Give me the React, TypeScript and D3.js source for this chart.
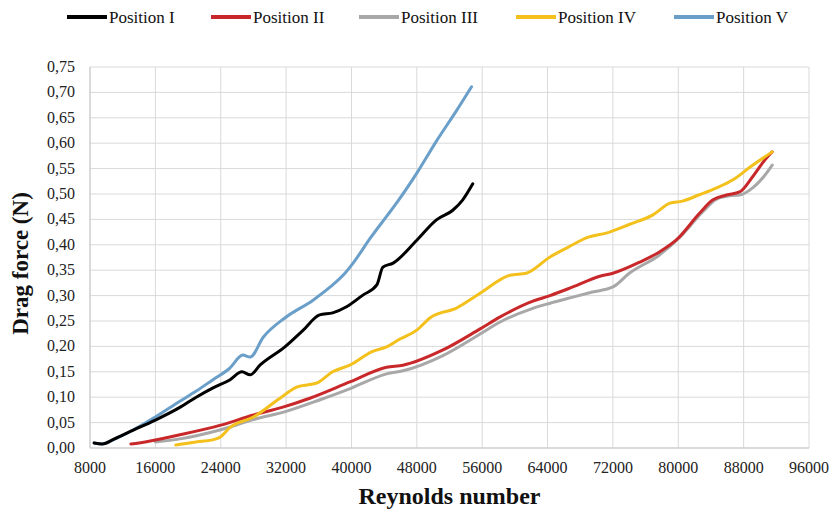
import React from "react";
import * as d3 from "d3";

// Reynolds number / drag force readings per position
const xTicks = [8000, 16000, 24000, 32000, 40000, 48000, 56000, 64000, 72000, 80000, 88000, 96000];
const yTicks = [0, 0.05, 0.1, 0.15, 0.2, 0.25, 0.3, 0.35, 0.4, 0.45, 0.5, 0.55, 0.6, 0.65, 0.7, 0.75];

const pos1: [number, number][] = [
  [8500, 0.01], [9500, 0.008], [11000, 0.018], [13000, 0.033], [16000, 0.055], [19000, 0.08],
  [21000, 0.1], [23000, 0.118], [25100, 0.134], [26600, 0.15], [27600, 0.144], [28800, 0.163],
  [31850, 0.199], [34100, 0.232], [36100, 0.262], [37700, 0.266], [39400, 0.278], [41400, 0.301],
  [43100, 0.321], [43850, 0.356], [45100, 0.364], [48000, 0.409], [50400, 0.449], [52400, 0.468],
  [53600, 0.488], [54850, 0.52],
];
const pos2: [number, number][] = [
  [13000, 0.008], [14000, 0.01], [19000, 0.026], [24000, 0.045], [28000, 0.065], [31500, 0.08],
  [34900, 0.098], [39800, 0.13], [44300, 0.159], [46300, 0.163], [51200, 0.193], [55700, 0.234],
  [58200, 0.258], [62200, 0.289], [64300, 0.3], [67100, 0.317], [70400, 0.338],
  [72000, 0.344], [75300, 0.366], [77700, 0.386], [79800, 0.41], [82600, 0.462], [84200, 0.488],
  [85900, 0.498], [87500, 0.504], [89100, 0.534], [90500, 0.565], [91500, 0.583],
];
const pos3: [number, number][] = [
  [16000, 0.012], [19000, 0.018], [24000, 0.036], [28000, 0.056], [32000, 0.072], [36000, 0.094],
  [40000, 0.118], [44300, 0.146], [46300, 0.152], [51200, 0.182], [55700, 0.224],
  [58200, 0.248], [62200, 0.275], [64300, 0.285], [67100, 0.297], [69500, 0.307], [72000, 0.317],
  [74000, 0.344], [77700, 0.38], [80500, 0.42], [83000, 0.465], [84700, 0.49], [86500, 0.497],
  [87500, 0.498], [89100, 0.512], [90500, 0.535], [91500, 0.557],
];
const pos4: [number, number][] = [
  [18500, 0.006], [21000, 0.012], [23000, 0.016], [24000, 0.022], [25100, 0.04], [28000, 0.061],
  [31250, 0.098], [33300, 0.12], [35800, 0.128], [37700, 0.15], [39800, 0.163], [42600, 0.19],
  [44300, 0.199], [46000, 0.215], [48000, 0.232], [49600, 0.256], [52900, 0.276],
  [55700, 0.304], [59400, 0.34], [61400, 0.344], [64300, 0.376], [66500, 0.395], [69000, 0.415],
  [71200, 0.423], [74000, 0.44], [76900, 0.459], [79000, 0.482], [80500, 0.486], [82500, 0.498],
  [84700, 0.512], [86700, 0.528], [88800, 0.553], [91500, 0.583],
];
const pos5: [number, number][] = [
  [8500, 0.01], [9500, 0.008], [10800, 0.016], [12900, 0.032], [16000, 0.061], [19000, 0.092],
  [21000, 0.112], [23000, 0.134], [25100, 0.157], [26700, 0.183], [27600, 0.179], [29200, 0.218],
  [31850, 0.256], [35300, 0.291], [37400, 0.317], [39200, 0.344], [40200, 0.364], [42300, 0.413],
  [44300, 0.456], [45600, 0.484], [48000, 0.541], [50400, 0.604], [52900, 0.665], [54700, 0.711],
];

const names = ["Position I", "Position II", "Position III", "Position IV", "Position V"];
const colors = ["#000000", "#c8282a", "#a8a8a8", "#f3c01c", "#6a9fca"];
const series = [pos1, pos2, pos3, pos4, pos5];
// drawing order: gray under red
const drawOrder = [2, 1, 3, 4, 0];

const W = 836, H = 517;
const left = 90, right = 809, top = 67, bottom = 448;

export default function App() {
  const x = d3.scaleLinear().domain([8000, 96000]).range([left, right]);
  const y = d3.scaleLinear().domain([0, 0.75]).range([bottom, top]);
  const line = d3.line<[number, number]>()
    .x(d => x(d[0]))
    .y(d => y(d[1]))
    .curve(d3.curveMonotoneX);

  const fmt = (v: number) => v.toFixed(2).replace(".", ",");
  const legendX = [67, 211, 359, 516, 674];

  return (
    <svg width={W} height={H} style={{ position: "absolute", left: 0, top: 0, background: "#fff" }}
      fontFamily="'Liberation Serif', 'Times New Roman', serif">
      {/* grid */}
      {yTicks.map(t => (
        <line key={"gy" + t} x1={left} x2={right} y1={y(t)} y2={y(t)} stroke="#d9d9d9" strokeWidth={1} />
      ))}
      {xTicks.map(t => (
        <line key={"gx" + t} x1={x(t)} x2={x(t)} y1={top} y2={bottom} stroke="#d9d9d9" strokeWidth={1} />
      ))}
      <line x1={left} x2={left} y1={top} y2={bottom} stroke="#c8c8c8" />
      <line x1={left} x2={right} y1={bottom} y2={bottom} stroke="#c8c8c8" />

      {/* tick labels */}
      {yTicks.map(t => (
        <text key={"ty" + t} x={left - 15} y={y(t) + 5} textAnchor="end" fontSize={16} fill="#222">{fmt(t)}</text>
      ))}
      {xTicks.map(t => (
        <text key={"tx" + t} x={x(t)} y={bottom + 25} textAnchor="middle" fontSize={16} fill="#222">{t}</text>
      ))}

      {/* series */}
      {drawOrder.map(i => (
        <path key={names[i]} d={line(series[i]) || ""} fill="none" stroke={colors[i]}
          strokeWidth={3} strokeLinejoin="round" strokeLinecap="round" />
      ))}

      {/* axis titles */}
      <text x={(left + right) / 2} y={504} textAnchor="middle" fontSize={24} fontWeight="bold" fill="#111">Reynolds number</text>
      <text transform={`translate(28,${(top + bottom) / 2 + 6}) rotate(-90)`} textAnchor="middle" fontSize={23}
        fontWeight="bold" fill="#111">Drag force (N)</text>

      {/* legend */}
      {names.map((n, i) => (
        <g key={"lg" + n} transform={`translate(${legendX[i]},17)`}>
          <line x1={0} x2={40} y1={0} y2={0} stroke={colors[i]} strokeWidth={4} />
          <text x={42} y={6} fontSize={17} fill="#111">{n}</text>
        </g>
      ))}
    </svg>
  );
}
